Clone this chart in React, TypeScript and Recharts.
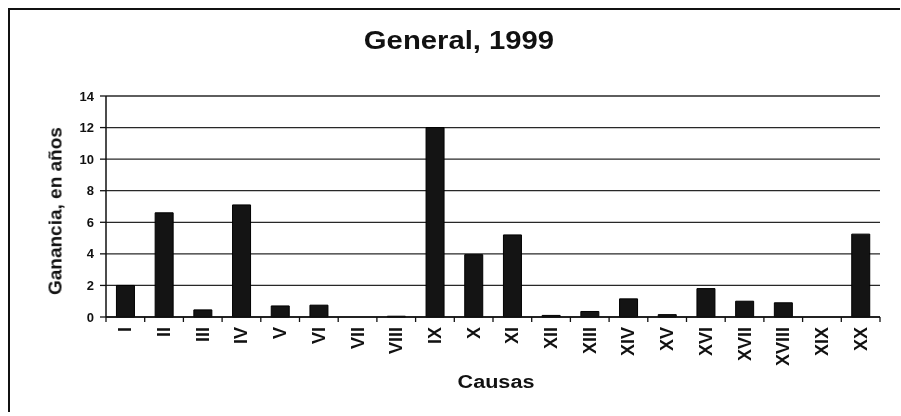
import { BarChart, Bar, XAxis, YAxis, CartesianGrid } from 'recharts'

const causas = [
  'I', 'II', 'III', 'IV', 'V', 'VI', 'VII', 'VIII', 'IX', 'X',
  'XI', 'XII', 'XIII', 'XIV', 'XV', 'XVI', 'XVII', 'XVIII', 'XIX', 'XX',
]
const ganancia = [
  2.0, 6.6, 0.45, 7.1, 0.7, 0.75, 0, 0.05, 12.0, 3.95,
  5.2, 0.1, 0.35, 1.15, 0.15, 1.8, 1.0, 0.9, 0, 5.25,
]
const yTicks = [0, 2, 4, 6, 8, 10, 12, 14]

const data = causas.map((c, i) => ({ causa: c, valor: ganancia[i] }))

const FONT = '"Liberation Sans", Arial, sans-serif'

function CausaTick(props: any) {
  const { x, y, payload, index, width, visibleTicksCount } = props
  const band = width && visibleTicksCount ? width / visibleTicksCount : 38.7
  const left = x - band / 2
  const right = x + band / 2
  const last = index === causas.length - 1
  return (
    <g>
      <line x1={left} x2={left} y1={y} y2={y + 5} stroke="#111" strokeWidth={1.3} />
      {last && <line x1={right} x2={right} y1={y} y2={y + 5} stroke="#111" strokeWidth={1.3} />}
      <text
        x={x}
        y={y + 10}
        transform={`rotate(-90, ${x}, ${y + 10})`}
        textAnchor="end"
        dominantBaseline="central"
        fontSize={18}
        fontWeight="bold"
        fontFamily={FONT}
        fill="#111"
      >
        {payload.value}
      </text>
    </g>
  )
}

export default function App() {
  return (
    <div style={{ position: 'relative', width: 885, height: 404, fontFamily: FONT, color: '#111' }}>
      <div
        style={{
          position: 'fixed',
          left: 8,
          top: 8,
          width: 892,
          height: 404,
          borderTop: '2px solid #111',
          borderLeft: '2px solid #111',
          boxSizing: 'border-box',
        }}
      />
      <div
        style={{
          position: 'absolute',
          left: 0,
          top: 20,
          width: 902,
          textAlign: 'center',
          fontSize: 25,
          lineHeight: '25px',
          fontWeight: 'bold',
          transform: 'scaleX(1.17)',
          transformOrigin: '451px 0',
        }}
      >
        General, 1999
      </div>
      <div
        style={{
          position: 'absolute',
          left: 47,
          top: 203,
          transform: 'translate(-50%, -50%) rotate(-90deg)',
          whiteSpace: 'nowrap',
          fontSize: 19,
          lineHeight: '19px',
          fontWeight: 'bold',
        }}
      >
        Ganancia, en años
      </div>
      <div
        style={{
          position: 'absolute',
          left: 388,
          top: 365,
          width: 200,
          textAlign: 'center',
          fontSize: 18,
          lineHeight: '18px',
          fontWeight: 'bold',
          transform: 'scaleX(1.2)',
          transformOrigin: '100px 0',
        }}
      >
        Causas
      </div>
      <div style={{ position: 'absolute', left: 0, top: 0 }}>
        <BarChart
          width={885}
          height={404}
          data={data}
          margin={{ top: 88, right: 13, bottom: 15, left: 38 }}
          barCategoryGap="27%"
        >
          <CartesianGrid vertical={false} stroke="#111" strokeWidth={1.3} strokeOpacity={0.9} />
          <XAxis
            dataKey="causa"
            height={80}
            interval={0}
            tickLine={false}
            tickSize={0}
            tickMargin={0}
            axisLine={{ stroke: '#111', strokeWidth: 1.5 }}
            tick={<CausaTick />}
          />
          <YAxis
            width={60}
            domain={[0, 14]}
            ticks={yTicks}
            interval={0}
            tickSize={6}
            tickMargin={6}
            tickLine={{ stroke: '#111', strokeWidth: 1.3 }}
            axisLine={{ stroke: '#111', strokeWidth: 1.5 }}
            tick={{ fill: '#111', fontSize: 13, fontWeight: 'bold', fontFamily: FONT }}
          />
          <Bar dataKey="valor" fill="#141414" stroke="#000" strokeWidth={1} isAnimationActive={false} />
        </BarChart>
      </div>
    </div>
  )
}
